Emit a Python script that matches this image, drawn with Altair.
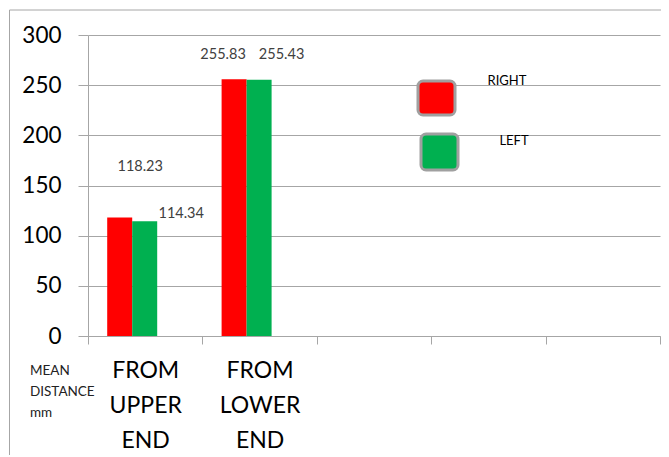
import altair as alt
import pandas as pd

categories = ["FROM UPPER END", "FROM LOWER END"]
empty_slots = ["slot3", "slot4", "slot5"]
series = ["RIGHT", "LEFT"]
right_values = [118.23, 255.83]
left_values = [114.34, 255.43]
y_ticks = [0, 50, 100, 150, 200, 250, 300]
axis_note = ["MEAN", "DISTANCE", "mm"]
colors = ["#FF0000", "#00B050"]

rows = []
for c, r, l in zip(categories, right_values, left_values):
    rows.append({"cat": c, "series": series[0], "value": r})
    rows.append({"cat": c, "series": series[1], "value": l})
df = pd.DataFrame(rows)

FONT = "Lato"
GRAY = "#a6a6a6"

x_enc = alt.X(
    "cat:N",
    sort=categories + empty_slots,
    scale=alt.Scale(domain=categories + empty_slots, paddingInner=0, paddingOuter=0),
    axis=alt.Axis(
        title=None, labelAngle=0, tickBand="extent", grid=False,
        domainColor=GRAY, tickColor=GRAY, tickSize=8, domainWidth=1, tickWidth=1,
        labelFont=FONT, labelFontSize=23, labelLineHeight=35, labelPadding=15,
        labelColor="#000000", labelBaseline="top",
        labelExpr="indexof(datum.label, 'FROM') == 0 ? split(datum.label, ' ') : ''",
    ),
)
# group of two 25px bars sitting a little left of each category's centre
xo_enc = alt.XOffset(
    "series:N",
    sort=series,
    scale=alt.Scale(domain=series, paddingInner=0, paddingOuter=0, range=[19.2, 69.2]),
)
y_enc = alt.Y(
    "value:Q",
    scale=alt.Scale(domain=[0, 300], nice=False),
    axis=alt.Axis(
        values=y_ticks, title=None, grid=True, gridColor=GRAY, gridWidth=1,
        domainColor=GRAY, tickColor=GRAY, tickSize=10,
        labelFont=FONT, labelFontSize=22.5, labelPadding=17, labelColor="#000000",
    ),
)
color_enc = alt.Color(
    "series:N", scale=alt.Scale(domain=series, range=colors), legend=None
)

bars = alt.Chart(df).mark_bar().encode(
    x=x_enc, xOffset=xo_enc, y=y_enc, color=color_enc
)

label_shifts = [(20.5, -50), (36.5, -7), (-11, -24), (22.5, -25)]
label_layers = []
for i, (dx, dy) in enumerate(label_shifts):
    label_layers.append(
        alt.Chart(df.iloc[[i]]).mark_text(
            dx=dx, dy=dy, font=FONT, fontSize=14.5, color="#404040",
            baseline="middle", align="center",
        ).encode(
            x=x_enc, xOffset=xo_enc, y=y_enc,
            text=alt.Text("value:Q", format=".2f"),
        )
    )

one = pd.DataFrame({"k": [0]})

border_left = alt.Chart(one).mark_rule(color=GRAY, strokeWidth=1).encode(
    x=alt.value(-78.5), y=alt.value(-25), y2=alt.value(450)
)
border_top = alt.Chart(one).mark_rule(color=GRAY, strokeWidth=1).encode(
    x=alt.value(-78.5), x2=alt.value(600), y=alt.value(-25)
)

note = alt.Chart(one).mark_text(
    font=FONT, fontSize=13.5, color="#222222", align="left", baseline="top",
    lineHeight=21,
).encode(x=alt.value(-58), y=alt.value(329), text=alt.value(axis_note))

legend_boxes = [
    (series[0], colors[0], 330, 367, 46, 80, 419, 46),
    (series[1], colors[1], 333, 370, 99, 135, 426, 106),
]
legend_layers = []
for name, col, x1, x2, y1, y2, tx, ty in legend_boxes:
    legend_layers.append(
        alt.Chart(one).mark_rect(
            color=col, stroke="#a0a0a0", strokeWidth=3, cornerRadius=5
        ).encode(x=alt.value(x1), x2=alt.value(x2), y=alt.value(y1), y2=alt.value(y2))
    )
    legend_layers.append(
        alt.Chart(one).mark_text(
            font=FONT, fontSize=13, color="#000000", align="center", baseline="middle"
        ).encode(x=alt.value(tx), y=alt.value(ty), text=alt.value(name))
    )

chart = alt.layer(
    border_left, border_top, bars, *label_layers, note, *legend_layers
).properties(
    width=572, height=301,
    padding={"left": 80, "top": 27, "right": 1, "bottom": 119},
    autosize="none",
).configure_view(stroke=None)

chart.save("out.html", embed_options={"renderer": "svg", "actions": False})
